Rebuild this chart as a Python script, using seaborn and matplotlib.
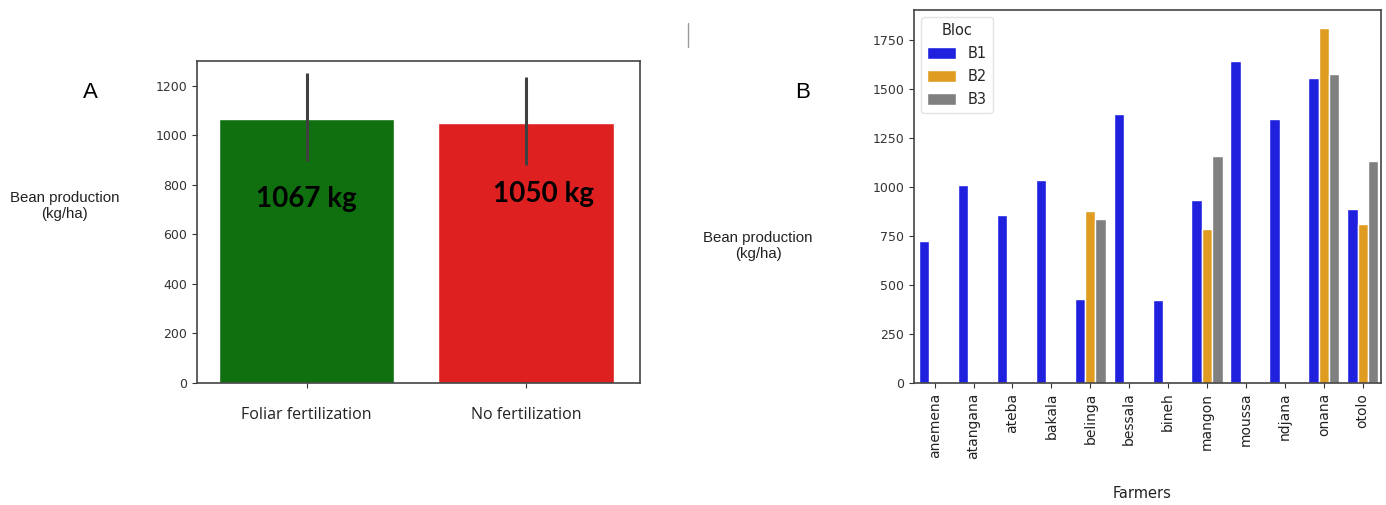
import numpy as np
import pandas as pd
import matplotlib
matplotlib.use("Agg")
import matplotlib.pyplot as plt
import seaborn as sns

# ---- Data: panel A ----
treatments = ["Foliar fertilization", "No fertilization"]
mean_yield = [1067, 1050]
ci_low = [896, 880]
ci_high = [1250, 1237]
bar_labels = ["1067 kg", "1050 kg"]
colors_a = ["green", "red"]

# ---- Data: panel B ----
farmers = ["anemena", "atangana", "ateba", "bakala", "belinga", "bessala",
           "bineh", "mangon", "moussa", "ndjana", "onana", "otolo"]
b1 = [727, 1011, 855, 1036, 428, 1373, 423, 933, 1643, 1349, 1556, 887]
b2 = [None, None, None, None, 877, None, None, 788, None, None, 1813, 814]
b3 = [None, None, None, None, 836, None, None, 1159, None, None, 1577, 1133]
blocs = ["B1", "B2", "B3"]
colors_b = ["blue", "orange", "gray"]

sns.set_style("white")
plt.rcParams["font.family"] = ["DejaVu Sans"]

fig = plt.figure(figsize=(13.86, 5.05), dpi=100)

# ---------- Panel A ----------
axA = fig.add_axes([197/1386, 1-383/505, (640-197)/1386, (383-61)/505])
dfA = pd.DataFrame({"treatment": treatments, "yield": mean_yield})
sns.barplot(data=dfA, x="treatment", y="yield", hue="treatment",
            palette=colors_a, errorbar=None, legend=False, ax=axA, width=0.8)
axA.vlines(x=range(len(treatments)), ymin=ci_low, ymax=ci_high,
           color="#404040", linewidth=2.2, zorder=3)
axA.set_ylim(0, 1300)
axA.set_xlim(-0.5, 1.52)
axA.set_yticks([0, 200, 400, 600, 800, 1000, 1200])
axA.set_xlabel("")
axA.set_ylabel("")
axA.tick_params(axis="y", labelsize=9, labelcolor="#333333", length=3.5,
                color="#333333", left=True)
axA.tick_params(axis="x", labelsize=11.5, labelcolor="#222222", length=3.5,
                color="#333333", pad=14, bottom=True)
for lab in axA.get_xticklabels():
    lab.set_fontfamily("Open Sans")
text_pos = [(0.0, 742), (1.08, 762)]
for (tx, ty), lab in zip(text_pos, bar_labels):
    axA.text(tx, ty, lab, ha="center", va="center", fontsize=20,
             fontweight="bold", fontfamily="Lato", color="black")
for sp in axA.spines.values():
    sp.set_color("#444444")
    sp.set_linewidth(1.2)

# ---------- Panel B ----------
axB = fig.add_axes([914/1386, 1-383/505, (1381-914)/1386, (383-10)/505])
rows = []
for f, v1, v2, v3 in zip(farmers, b1, b2, b3):
    for bl, v in zip(blocs, [v1, v2, v3]):
        if v is not None:
            rows.append({"Farmers": f, "Bloc": bl, "yield": v})
dfB = pd.DataFrame(rows)
sns.barplot(data=dfB, x="Farmers", y="yield", hue="Bloc", order=farmers,
            hue_order=blocs, palette=colors_b, errorbar=None, ax=axB, width=0.8)
axB.set_xlim(-0.53, 11.47)
axB.set_yticks([0, 250, 500, 750, 1000, 1250, 1500, 1750])
axB.set_ylabel("")
axB.set_xlabel("")
axB.tick_params(axis="y", labelsize=9, labelcolor="#333333", length=3.5,
                color="#333333", left=True)
axB.tick_params(axis="x", labelsize=10, labelcolor="#222222", length=3.5,
                color="#333333", bottom=True, labelrotation=90)
for sp in axB.spines.values():
    sp.set_color("#444444")
    sp.set_linewidth(1.2)
leg = axB.legend(title="Bloc", loc="upper left", fontsize=10.5,
                 title_fontsize=10.5, borderaxespad=0.5, handlelength=2.0,
                 handleheight=0.9, labelspacing=0.55)
leg.get_frame().set_edgecolor("#dddddd")

# ---------- figure texts ----------
fig.text(65/1386, 1-206/505, "Bean production\n(kg/ha)", ha="center",
         va="center", fontsize=10.8, fontfamily="Liberation Sans",
         multialignment="center", color="#222222")
fig.text(758/1386, 1-246/505, "Bean production\n(kg/ha)", ha="center",
         va="center", fontsize=10.8, fontfamily="Liberation Sans",
         multialignment="center", color="#222222")
fig.text(90/1386, 1-93/505, "A", ha="center", va="center", fontsize=16,
         fontfamily="Liberation Sans", color="black")
fig.text(803/1386, 1-93/505, "B", ha="center", va="center", fontsize=16,
         fontfamily="Liberation Sans", color="black")
fig.text(1142/1386, 1-493/505, "Farmers", ha="center", va="center",
         fontsize=10.5, color="#222222")
fig.add_artist(plt.Line2D([688/1386, 688/1386], [1-23/505, 1-47/505],
                          color="#999999", linewidth=1.0))

fig.savefig("out.png", dpi=100)
